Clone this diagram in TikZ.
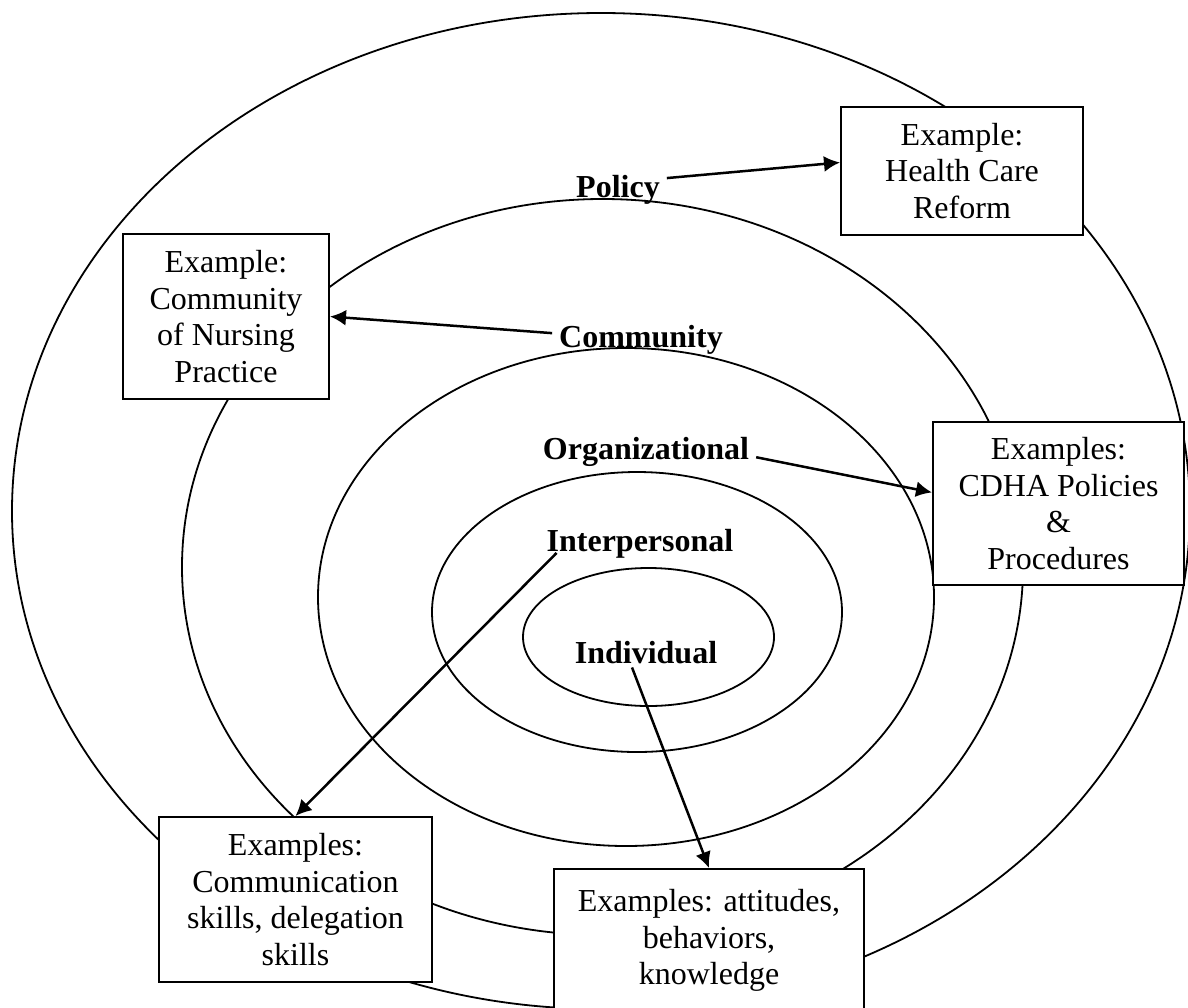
\documentclass[tikz,border=0pt]{standalone}
\usepackage{fontspec}
\setmainfont{Liberation Serif}
\usetikzlibrary{arrows.meta,calc,positioning}
\newcommand{\ringfont}{\fontsize{16}{18.4}\selectfont}
\tikzset{%
	ring/.style     = {draw, line width=0.9pt}, % nested level
	tier/.style     = {font=\ringfont\bfseries, anchor=base}, % level name
	example/.style  = {draw, rectangle, fill=white, line width=1pt, align=center, font=\ringfont}, % example box
	arrow/.style    = {line width=1.25pt, -{Latex[length=8pt,width=8pt]}},
}

\begin{document}
\begin{tikzpicture}[x=0.5pt, y=-0.5pt]
	\useasboundingbox (0,0) rectangle (1188,1007);
	% rings, outside to inside
	\draw[ring] (601,511) ellipse [x radius=589, y radius=498];
	\draw[ring] (602.5,567) ellipse [x radius=420.5, y radius=368];
	\draw[ring] (626,597) ellipse [x radius=308, y radius=249];
	\draw[ring] (637,612) ellipse [x radius=205, y radius=140];
	\draw[ring] (648.5,637) ellipse [x radius=125.5, y radius=69];
	
	\node[tier] (policy) at (618,197) {Policy};
	\node[tier] (community) at (641,347) {Community};
	\node[tier] (org) at (646,459) {Organizational};
	\node[tier] (inter) at (640,551) {Interpersonal};
	\node[tier] (indiv) at (646,663) {Individual};
	
	\node[example, minimum width=121pt, minimum height=64pt] (health) at (962,171) {Example:\\Health Care\\Reform};
	\node[example, minimum width=103pt, minimum height=82.5pt] (commu) at (226,316.5) {Example:\\Community\\of Nursing\\Practice};
	\node[example, minimum width=125.5pt, minimum height=81.5pt] (cdha) at (1058.5,503.5) {Examples:\\CDHA Policies\\\&\\Procedures};
	\node[example, minimum width=136.5pt, minimum height=82.5pt] (skills) at (295.5,899.5) {Examples:\\Communication\\skills, delegation\\skills};
	\node[example, minimum width=155pt, anchor=north, inner ysep=10pt, text depth=50pt] (attitudes) at (709,868) {Examples: attitudes,\\behaviors,\\knowledge};
	
	\draw[arrow] (policy.13) -- (health.176);
	\draw[arrow] (community.176) -- (commu.east);
	\draw[arrow] (org.-3) -- (cdha.175);
	\draw[arrow] ([xshift=8.5pt,yshift=6pt]inter.south west) -- (skills.north);
	\draw[arrow] ([xshift=-7pt,yshift=1.5pt]indiv.south) -- (attitudes.north);
\end{tikzpicture}
\end{document}
